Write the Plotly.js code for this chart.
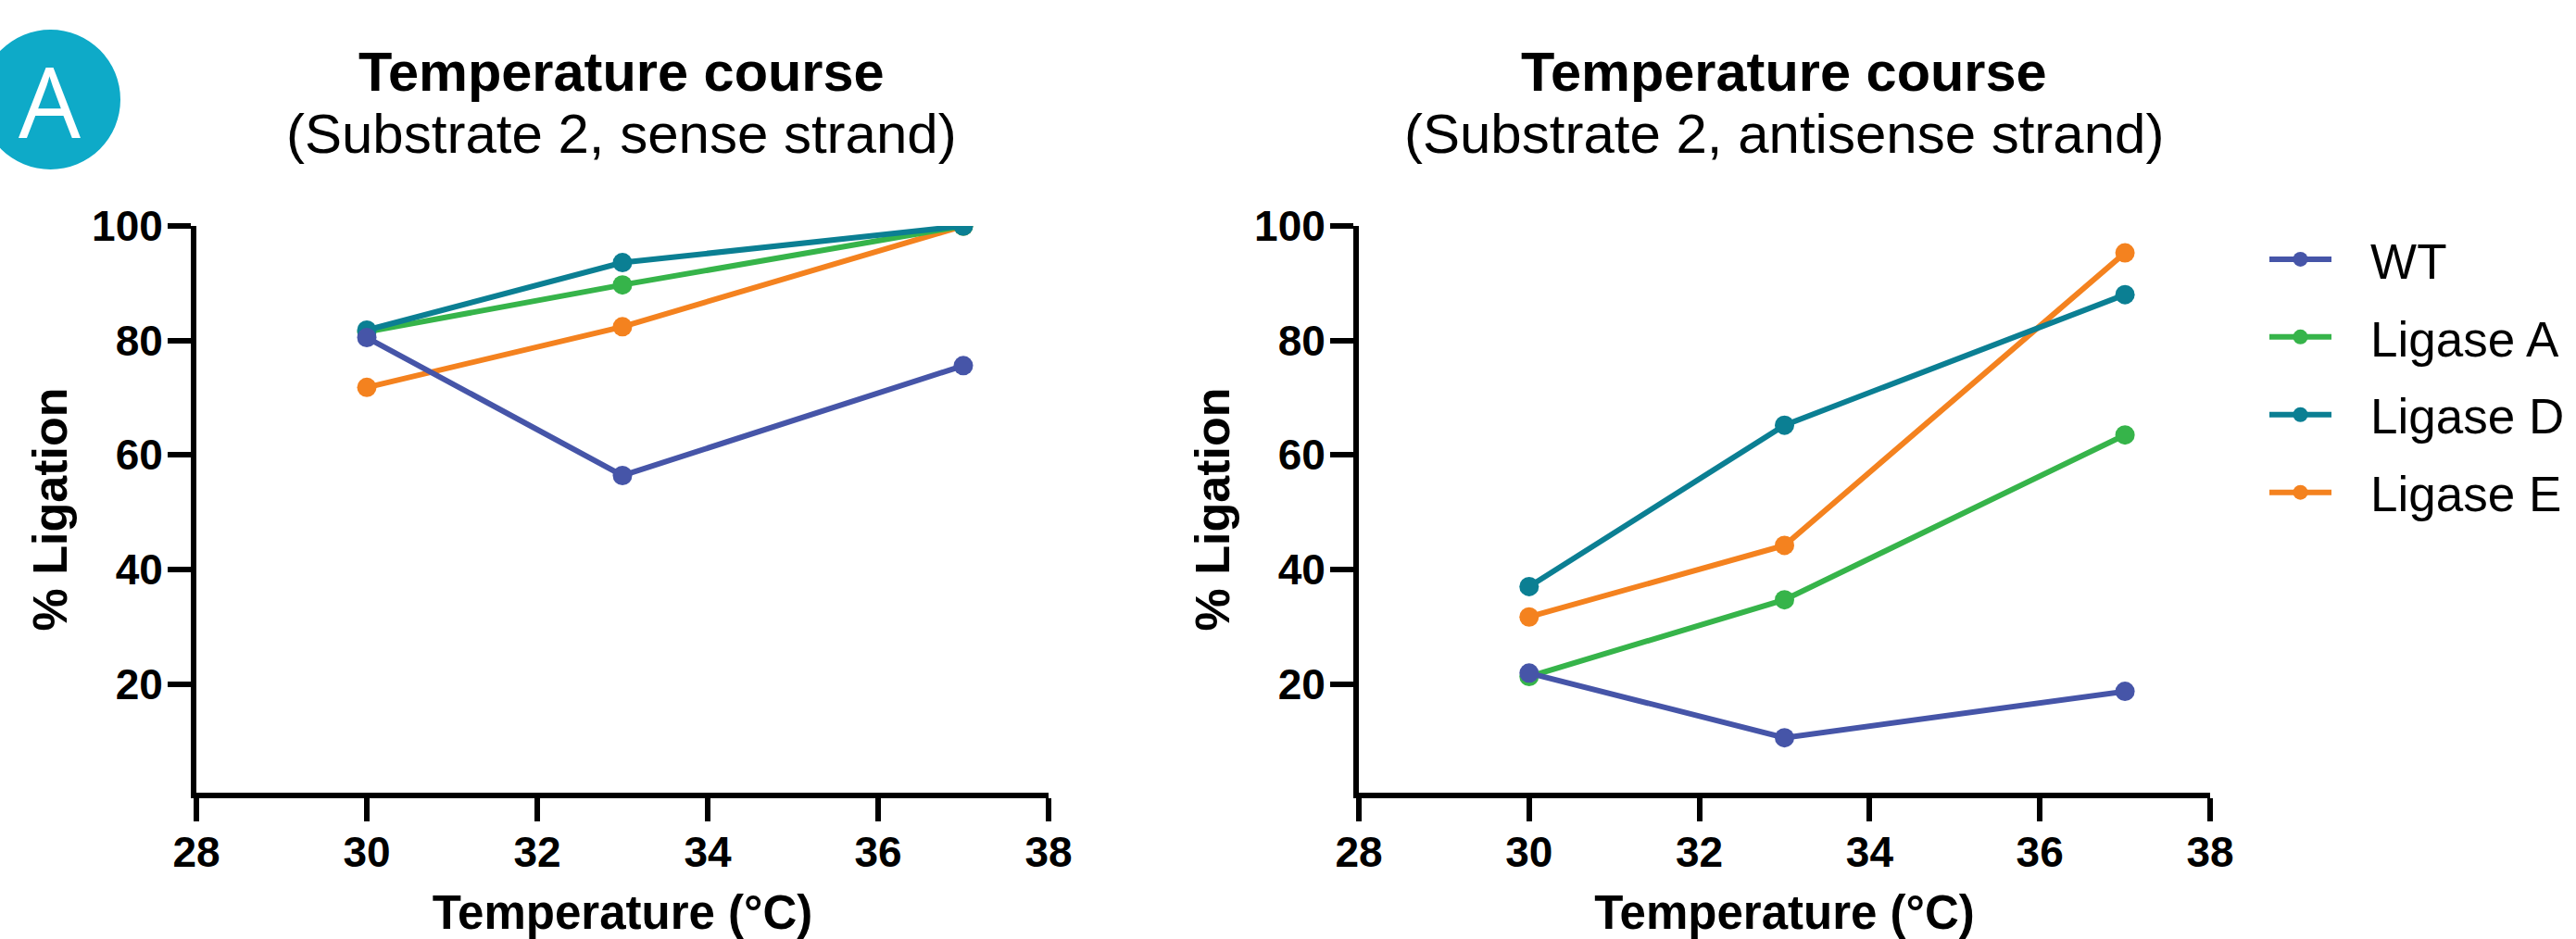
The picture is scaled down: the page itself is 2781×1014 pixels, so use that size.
<!DOCTYPE html>
<html>
<head>
<meta charset="utf-8">
<script src="https://cdn.plot.ly/plotly-3.0.1.min.js"></script>
<style>html,body{margin:0;padding:0;background:#fff;}#chart{width:2781px;height:1014px;}</style>
</head>
<body>
<div id="chart"></div>
<script>
// ---- data ----
const temperatures = [30, 33, 37];
const seriesNames = ["WT", "Ligase A", "Ligase D", "Ligase E"];
const senseWT = [80.5, 56.4, 75.6];
const senseLigaseA = [81.5, 89.7, 100];
const senseLigaseD = [81.8, 93.6, 100];
const senseLigaseE = [71.8, 82.4, 100];
const antisenseWT = [21.9, 10.6, 18.7];
const antisenseLigaseA = [21.3, 34.7, 63.5];
const antisenseLigaseD = [37.0, 65.2, 88.0];
const antisenseLigaseE = [31.7, 44.2, 95.3];
const xTickVals = [28, 30, 32, 34, 36, 38];
const yTickVals = [20, 40, 60, 80, 100];
const panelTitles = ["Temperature course", "Temperature course"];
const panelSubtitles = ["(Substrate 2, sense strand)", "(Substrate 2, antisense strand)"];
const xTitle = "Temperature (°C)";
const yTitle = "% Ligation";
const panelLetter = "A";

// ---- styling ----
const colors = {"WT": "#4655a8", "Ligase A": "#36b44a", "Ligase D": "#0b7f93", "Ligase E": "#f4821f"};
const W = 2781, H = 1014;
const px = v => v / W, py = v => 1 - v / H;
const FONT = "Liberation Sans, Arial, Helvetica, sans-serif";
const LEGEND_PAD = "\u2002\u2009";

const senseData = {"WT": senseWT, "Ligase A": senseLigaseA, "Ligase D": senseLigaseD, "Ligase E": senseLigaseE};
const antiData = {"WT": antisenseWT, "Ligase A": antisenseLigaseA, "Ligase D": antisenseLigaseD, "Ligase E": antisenseLigaseE};
const drawOrder = ["Ligase E", "Ligase A", "Ligase D", "WT"];

const traces = [];
[[senseData, "x", "y", false], [antiData, "x2", "y2", true]].forEach(([d, xa, ya, leg]) => {
  drawOrder.forEach(name => {
    traces.push({
      type: "scatter", mode: "lines+markers", name: LEGEND_PAD + name,
      x: temperatures, y: d[name], xaxis: xa, yaxis: ya,
      line: {color: colors[name], width: 6},
      marker: {color: colors[name], size: 21},
      showlegend: leg, legendgroup: name,
      legendrank: seriesNames.indexOf(name) + 1
    });
  });
});

function xAxis(domain) {
  return {
    domain: domain, range: [28, 38], tickvals: xTickVals, ticks: "outside", ticklen: 25, tickwidth: 6,
    tickcolor: "#000", showline: true, linewidth: 6, linecolor: "#000", showgrid: false, zeroline: false,
    tickfont: {family: FONT, size: 46, color: "#000", weight: "bold"}, ticklabelstandoff: -6,
    title: {text: xTitle, font: {family: FONT, size: 51, color: "#000", weight: "bold"}, standoff: 68},
    fixedrange: true
  };
}
function yAxis(domain) {
  return {
    domain: domain, range: [1, 100], tickvals: yTickVals, ticks: "outside", ticklen: 25, tickwidth: 6,
    tickcolor: "#000", showline: true, linewidth: 6, linecolor: "#000", showgrid: false, zeroline: false,
    tickfont: {family: FONT, size: 46, color: "#000", weight: "bold"}, ticklabelstandoff: -4,
    title: {text: yTitle, font: {family: FONT, size: 52, color: "#000", weight: "bold"}, standoff: 12},
    fixedrange: true
  };
}

const yDom = [py(856), py(244)];
const layout = {
  width: W, height: H,
  margin: {l: 0, r: 0, t: 0, b: 0},
  paper_bgcolor: "#fff", plot_bgcolor: "#fff",
  showlegend: true,
  font: {family: FONT, color: "#000"},
  xaxis: Object.assign(xAxis([px(212), px(1132)]), {anchor: "y"}),
  yaxis: Object.assign(yAxis(yDom), {anchor: "x"}),
  xaxis2: Object.assign(xAxis([px(1467), px(2386)]), {anchor: "y2"}),
  yaxis2: Object.assign(yAxis(yDom), {anchor: "x2"}),
  legend: {
    x: px(2445), y: py(239), xanchor: "left", yanchor: "top",
    font: {family: FONT, size: 53, color: "#000"},
    itemwidth: 67, tracegroupgap: 12, bgcolor: "rgba(0,0,0,0)"
  },
  shapes: [{
    type: "circle", xref: "paper", yref: "paper",
    x0: px(-21), x1: px(130), y0: py(183), y1: py(32),
    fillcolor: "#0eaac8", line: {width: 0}, layer: "above"
  }],
  annotations: [
    {text: panelLetter, xref: "paper", yref: "paper", x: px(53), y: py(108), xanchor: "center", yanchor: "middle",
     showarrow: false, font: {family: "Open Sans, sans-serif", size: 106, color: "#fff"}},
    {text: panelTitles[0], xref: "paper", yref: "paper", x: px(671), y: py(78), xanchor: "center", yanchor: "middle",
     showarrow: false, font: {family: FONT, size: 59.5, color: "#000", weight: "bold"}},
    {text: panelSubtitles[0], xref: "paper", yref: "paper", x: px(671), y: py(145), xanchor: "center", yanchor: "middle",
     showarrow: false, font: {family: FONT, size: 60, color: "#000"}},
    {text: panelTitles[1], xref: "paper", yref: "paper", x: px(1926), y: py(78), xanchor: "center", yanchor: "middle",
     showarrow: false, font: {family: FONT, size: 59.5, color: "#000", weight: "bold"}},
    {text: panelSubtitles[1], xref: "paper", yref: "paper", x: px(1926), y: py(145), xanchor: "center", yanchor: "middle",
     showarrow: false, font: {family: FONT, size: 60, color: "#000"}}
  ]
};

Plotly.newPlot("chart", traces, layout, {displayModeBar: false, staticPlot: true});
</script>
</body>
</html>
